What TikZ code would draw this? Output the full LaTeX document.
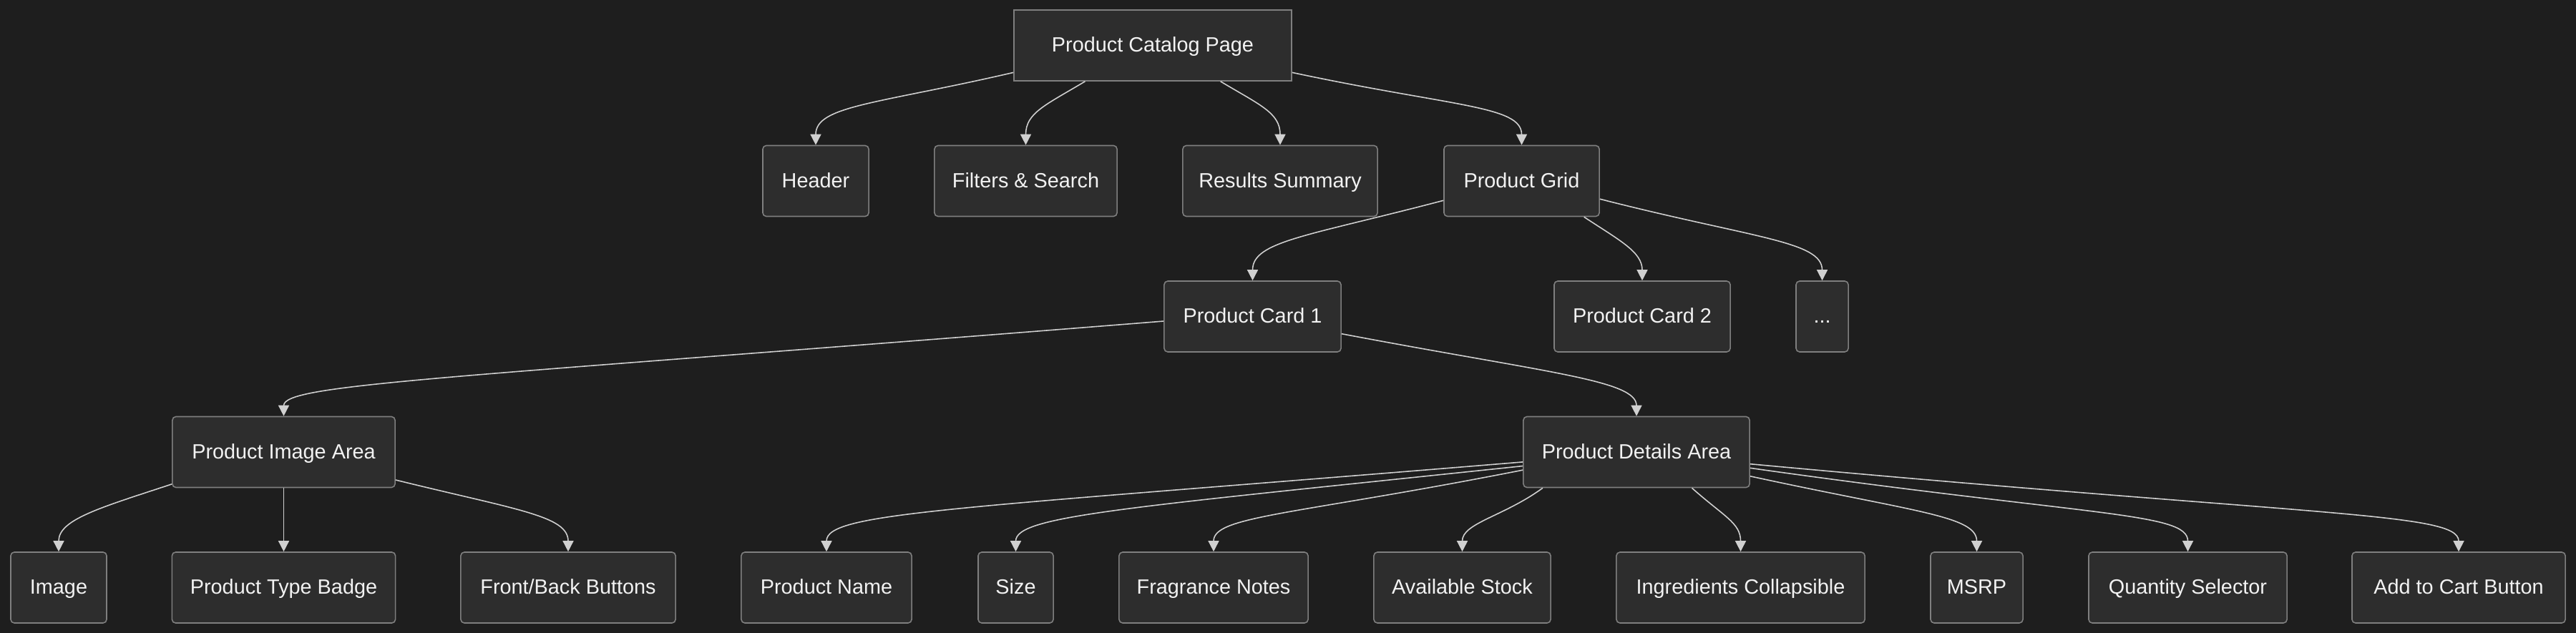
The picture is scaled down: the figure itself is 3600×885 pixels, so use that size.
\documentclass[tikz,border=0pt]{standalone}
\usepackage{fontspec}
\setmainfont{Liberation Sans}
\usetikzlibrary{arrows.meta}

\definecolor{bgcol}{HTML}{1E1E1E}
\definecolor{boxfill}{HTML}{2D2D2D}
\definecolor{boxline}{HTML}{7F7F7F}
\definecolor{edgecol}{HTML}{D0D0D0}
\definecolor{boxtext}{HTML}{F2F2F2}

\begin{document}
\begin{tikzpicture}[x=0.01cm,y=-0.01cm,
  box/.style={draw=boxline, fill=boxfill, line width=0.45pt, rounded corners=0.05cm, minimum height=0.99cm, inner sep=0pt, text height=0.72em, text depth=0.2em, text=boxtext, font=\fontsize{8.2}{10}\selectfont},
  edge/.style={draw=edgecol, line width=0.45pt, -{Triangle[length=0.15cm,width=0.15cm,fill=edgecol]}}]
\fill[bgcol] (0,0) rectangle (3600,885);
\useasboundingbox (0,0) rectangle (3600,885);
% top level
\node[box, sharp corners, minimum width=3.88cm] (cat) at (1611,63.5) {Product Catalog Page};
\node[box, minimum width=1.48cm] (hdr) at (1140,253) {Header};
\node[box, minimum width=2.55cm] (flt) at (1433.5,253) {Filters \& Search};
\node[box, minimum width=2.72cm] (res) at (1789,253) {Results Summary};
\node[box, minimum width=2.17cm] (grid) at (2126.5,253) {Product Grid};
% cards
\node[box, minimum width=2.47cm] (card1) at (1750.5,442.5) {Product Card 1};
\node[box, minimum width=2.46cm] (card2) at (2295,442.5) {Product Card 2};
\node[box, minimum width=0.73cm] (more) at (2546.5,442.5) {...};
% areas
\node[box, minimum width=3.11cm] (imgarea) at (396.5,632) {Product Image Area};
\node[box, minimum width=3.16cm] (detarea) at (2287,632) {Product Details Area};
% bottom row
\node[box, minimum width=1.34cm] (image) at (82,821.5) {Image};
\node[box, minimum width=3.12cm] (badge) at (396.5,821.5) {Product Type Badge};
\node[box, minimum width=3.00cm] (frontback) at (794,821.5) {Front/Back Buttons};
\node[box, minimum width=2.38cm] (name) at (1155,821.5) {Product Name};
\node[box, minimum width=1.05cm] (size) at (1419.5,821.5) {Size};
\node[box, minimum width=2.64cm] (notes) at (1696,821.5) {Fragrance Notes};
\node[box, minimum width=2.47cm] (stock) at (2043.5,821.5) {Available Stock};
\node[box, minimum width=3.47cm] (ingr) at (2432.5,821.5) {Ingredients Collapsible};
\node[box, minimum width=1.29cm] (msrp) at (2762.5,821.5) {MSRP};
\node[box, minimum width=2.77cm] (qty) at (3057.5,821.5) {Quantity Selector};
\node[box, minimum width=2.98cm] (cart) at (3436,821.5) {Add to Cart Button};
% connectors
\draw[edge] (cat.191) .. controls +(-190,44) and +(0,-55) .. (hdr.north);
\draw[edge] (cat.208) .. controls +(-55,33) and +(0,-45) .. (flt.north);
\draw[edge] (cat.332) .. controls +(55,33) and +(0,-45) .. (res.north);
\draw[edge] (cat.349.5) .. controls +(225,48) and +(0,-55) .. (grid.north);
\draw[edge] (grid.194.5) .. controls +(-190,50) and +(0,-55) .. (card1.north);
\draw[edge] (grid.330.7) .. controls +(50,33) and +(0,-40) .. (card2.north);
\draw[edge] (grid.347) .. controls +(215,55) and +(0,-55) .. (more.north);
\draw[edge] (card1.183.5) .. controls +(-1000,80) and +(0,-45) .. (imgarea.north);
\draw[edge] (card1.349.7) .. controls +(290,55) and +(0,-50) .. (detarea.north);
\draw[edge] (imgarea.196.6) .. controls +(-100,33) and +(0,-45) .. (image.north);
\draw[edge] (imgarea.south) -- (badge.north);
\draw[edge] (imgarea.346.4) .. controls +(170,42) and +(0,-50) .. (frontback.north);
\draw[edge] (detarea.185.2) .. controls +(-800,66) and +(0,-55) .. (name.north);
\draw[edge] (detarea.187) .. controls +(-560,59) and +(0,-50) .. (size.north);
\draw[edge] (detarea.189.5) .. controls +(-320,63) and +(0,-50) .. (notes.north);
\draw[edge] (detarea.201.4) .. controls +(-55,40) and +(0,-40) .. (stock.north);
\draw[edge] (detarea.327) .. controls +(45,40) and +(0,-40) .. (ingr.north);
\draw[edge] (detarea.348.4) .. controls +(230,50) and +(0,-50) .. (msrp.north);
\draw[edge] (detarea.352.6) .. controls +(480,68) and +(0,-55) .. (qty.north);
\draw[edge] (detarea.354.8) .. controls +(800,74) and +(0,-55) .. (cart.north);
\end{tikzpicture}
\end{document}
